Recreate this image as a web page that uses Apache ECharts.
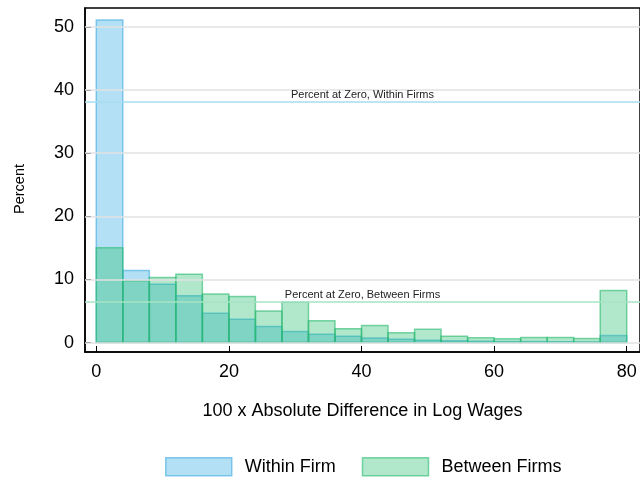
<!DOCTYPE html>
<html>
<head>
<meta charset="utf-8">
<script src="https://cdn.jsdelivr.net/npm/echarts@6/dist/echarts.min.js"></script>
<style>
html,body{margin:0;padding:0;background:#fff;}
#chart{width:640px;height:479px;}
</style>
</head>
<body>
<div id="chart"></div>
<script>
// Histogram bins (left edge, width 4)
const binStarts = [0,4,8,12,16,20,24,28,32,36,40,44,48,52,56,60,64,68,72,76];
const binWidth = 4;
const withinFirm = [51.1,11.4,9.25,7.4,4.65,3.7,2.55,1.75,1.33,1.0,0.7,0.53,0.37,0.27,0.2,0.15,0.15,0.12,0.1,1.1];
const betweenFirms = [15.0,9.8,10.3,10.8,7.7,7.3,5.0,6.4,3.44,2.2,2.7,1.54,2.1,1.0,0.75,0.58,0.8,0.8,0.63,8.25];
const zeroWithin = 38.15;
const zeroBetween = 6.45;
const xTicks = [0,20,40,60,80];
const yTicks = [0,10,20,30,40,50];

const FONT = 'Liberation Sans';
const chart = echarts.init(document.getElementById('chart'));

function makeRender(values, fill, stroke){
  return function(params, api){
    const i = params.dataIndex;
    const x0 = binStarts[i];
    const v = values[i];
    const p0 = api.coord([x0, 0]);
    const p1 = api.coord([x0 + binWidth, v]);
    return {
      type: 'rect',
      shape: {x: p0[0], y: p1[1], width: p1[0]-p0[0], height: p0[1]-p1[1]},
      style: {fill: fill, stroke: stroke, lineWidth: 1.5}
    };
  };
}

const blueFill = 'rgba(50,170,225,0.37)';
const blueStroke = 'rgba(60,170,225,0.6)';
const greenFill = 'rgba(40,190,110,0.36)';
const greenStroke = 'rgba(40,185,110,0.6)';

chart.setOption({
  animation: false,
  backgroundColor: '#fff',
  textStyle: {fontFamily: FONT},
  grid: {left: 85, top: 8, right: -3, bottom: 127, show: true, borderColor: '#000', borderWidth: 1.5, backgroundColor: 'transparent'},
  xAxis: {
    type: 'value', min: -1.7, max: 82,
    axisLine: {show: true, onZero: false, lineStyle: {color: '#000', width: 1.5}},
    axisTick: {show: true, inside: true, length: 6, customValues: xTicks, lineStyle: {color: '#000'}},
    axisLabel: {customValues: xTicks, color: '#000', fontSize: 18, fontFamily: FONT, margin: 11},
    splitLine: {show: false},
    name: '100 x Absolute Difference in Log Wages',
    nameLocation: 'middle', nameGap: 50,
    nameTextStyle: {color: '#000', fontSize: 18, fontFamily: FONT}
  },
  yAxis: {
    type: 'value', min: -1.5, max: 53,
    axisLine: {show: true, onZero: false, lineStyle: {color: '#000', width: 1.5}},
    axisTick: {show: true, inside: true, length: 6, customValues: yTicks, lineStyle: {color: '#000'}},
    axisLabel: {customValues: yTicks, color: '#000', fontSize: 18, fontFamily: FONT, margin: 11},
    splitLine: {show: false},
    name: 'Percent', nameLocation: 'middle', nameGap: 58, nameRotate: 90,
    nameTextStyle: {color: '#000', fontSize: 14.5, fontFamily: FONT, padding: [0, 18, 0, 0]}
  },
  legend: {
    top: 457, left: 165, padding: 0,
    itemWidth: 66, itemHeight: 18, itemGap: 26,
    icon: 'rect',
    textStyle: {fontSize: 18, fontFamily: FONT, color: '#000', padding: [0,0,0,8]},
    data: [
      {name: 'Within Firm', itemStyle: {color: blueFill, borderColor: blueStroke, borderWidth: 1.5}},
      {name: 'Between Firms', itemStyle: {color: greenFill, borderColor: greenStroke, borderWidth: 1.5}}
    ]
  },
  series: [
    {
      name: 'grid', type: 'line', data: [], silent: true, z: 0,
      markLine: {
        silent: true, symbol: 'none', animation: false,
        lineStyle: {color: '#e2e2e2', width: 1.5, type: 'solid'},
        label: {show: false},
        data: yTicks.map(v => ({yAxis: v}))
      }
    },
    {
      name: 'Within Firm', type: 'custom', z: 2,
      itemStyle: {color: blueFill, borderColor: blueStroke},
      renderItem: makeRender(withinFirm, blueFill, blueStroke),
      data: withinFirm.map((v,i)=>[binStarts[i], v]),
      encode: {x: 0, y: 1},
      markLine: {
        silent: true, symbol: 'none', animation: false,
        lineStyle: {color: '#a9dcf0', width: 1.5, type: 'solid'},
        label: {show: true, position: 'insideMiddleTop', formatter: 'Percent at Zero, Within Firms', color: '#222', fontSize: 11, fontFamily: FONT, distance: 1},
        data: [{yAxis: zeroWithin}]
      }
    },
    {
      name: 'Between Firms', type: 'custom', z: 3,
      itemStyle: {color: greenFill, borderColor: greenStroke},
      renderItem: makeRender(betweenFirms, greenFill, greenStroke),
      data: betweenFirms.map((v,i)=>[binStarts[i], v]),
      encode: {x: 0, y: 1},
      markLine: {
        silent: true, symbol: 'none', animation: false,
        lineStyle: {color: '#a6e3c3', width: 1.5, type: 'solid'},
        label: {show: true, position: 'insideMiddleTop', formatter: 'Percent at Zero, Between Firms', color: '#222', fontSize: 11, fontFamily: FONT, distance: 1},
        data: [{yAxis: zeroBetween}]
      }
    }
  ]
});
</script>
</body>
</html>
